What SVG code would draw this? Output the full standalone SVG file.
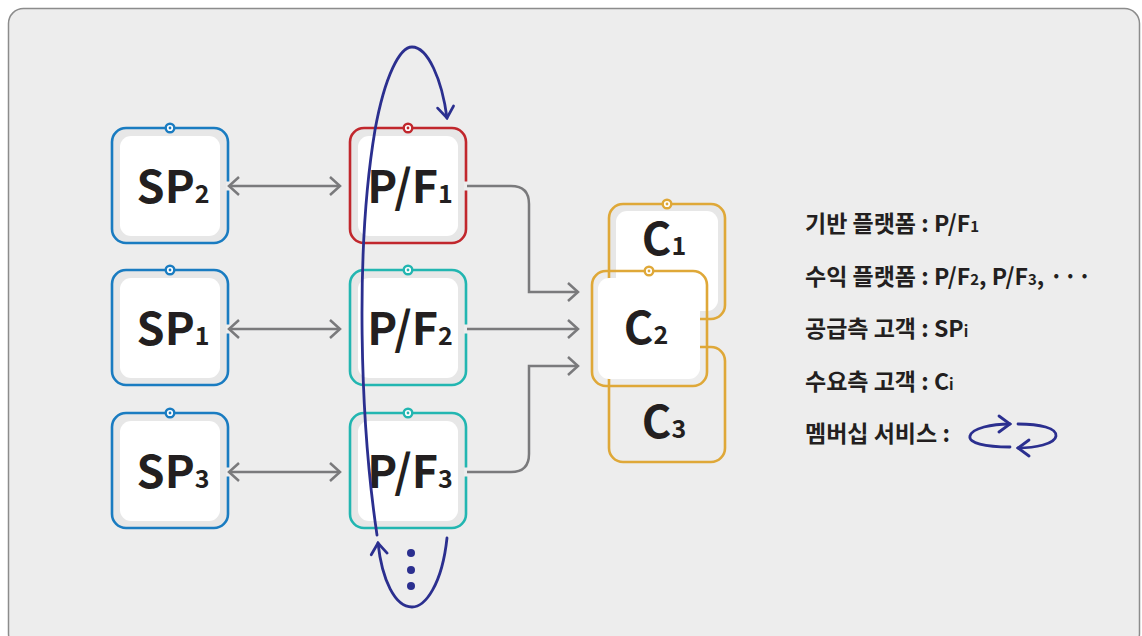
<svg xmlns="http://www.w3.org/2000/svg" width="1142" height="636" viewBox="0 0 1142 636">
  <defs>
    <style>
      .frame { fill: #ededed; stroke: #8c8c8c; stroke-width: 1.5; }
      .band { fill: #e7e7e7; stroke-width: 2.6; }
      .open { fill: none; stroke-width: 2.6; }
      .inner { fill: #ffffff; }
      .sp { stroke: #1a7cc1; }
      .pf1 { stroke: #c1272d; }
      .pf { stroke: #22b6b1; }
      .cu { stroke: #dfa838; }
      .pin { fill: #ffffff; stroke-width: 2.4; }
      .gap { fill: #ededed; }
      .lbl { font-family: "Noto Sans CJK KR", "Noto Sans", sans-serif; font-weight: 700; fill: #231f20; }
      .big { font-size: 45px; }
      .sub { font-size: 25px; }
      .leg { font-size: 23px; }
      .lsub { font-size: 15px; }
      .conn { fill: none; stroke: #7a7a7c; stroke-width: 2.5; }
      .loop { fill: none; stroke: #2b2f8f; stroke-width: 2.8; stroke-linecap: round; }
    </style>
    <marker id="gray-head" markerUnits="userSpaceOnUse" viewBox="-14 -12 16 24" refX="0" refY="0" markerWidth="16" markerHeight="24" orient="auto-start-reverse">
      <path d="M-10,-9 L0,0 L-10,9" fill="none" stroke="#7a7a7c" stroke-width="2.5"/>
    </marker>
    <marker id="navy-head" markerUnits="userSpaceOnUse" viewBox="-15 -12 17 24" refX="0" refY="0" markerWidth="17" markerHeight="24" orient="auto">
      <path d="M-11,-8 L0,0 L-11,8" fill="none" stroke="#2b2f8f" stroke-width="2.8" stroke-linecap="round"/>
    </marker>
  </defs>

  <!-- panel -->
  <rect class="frame" x="8.5" y="8.5" width="1131" height="640" rx="15"/>

  <!-- supplier side -->
  <g id="sp2">
    <rect class="band sp" x="112" y="128" width="116" height="115" rx="14"/>
    <rect class="inner" x="120" y="136" width="100" height="100" rx="11"/>
    <circle class="pin sp" cx="170" cy="128" r="4.3"/><circle cx="170" cy="128" r="1.4" fill="#1a7cc1"/>
    <text class="lbl big" x="173" y="203" text-anchor="middle">SP<tspan class="sub">2</tspan></text>
  </g>
  <g id="sp1">
    <rect class="band sp" x="112" y="270" width="116" height="115" rx="14"/>
    <rect class="inner" x="120" y="278" width="100" height="100" rx="11"/>
    <circle class="pin sp" cx="170" cy="270" r="4.3"/><circle cx="170" cy="270" r="1.4" fill="#1a7cc1"/>
    <text class="lbl big" x="173" y="345" text-anchor="middle">SP<tspan class="sub">1</tspan></text>
  </g>
  <g id="sp3">
    <rect class="band sp" x="112" y="413" width="116" height="115" rx="14"/>
    <rect class="inner" x="120" y="421" width="100" height="100" rx="11"/>
    <circle class="pin sp" cx="170" cy="413" r="4.3"/><circle cx="170" cy="413" r="1.4" fill="#1a7cc1"/>
    <text class="lbl big" x="173" y="488" text-anchor="middle">SP<tspan class="sub">3</tspan></text>
  </g>

  <!-- platforms -->
  <g id="pf1">
    <rect class="band pf1" x="350" y="128" width="116" height="115" rx="14"/>
    <rect class="inner" x="358" y="136" width="100" height="100" rx="11"/>
    <circle class="pin pf1" cx="408" cy="128" r="4.3"/><circle cx="408" cy="128" r="1.4" fill="#c1272d"/>
    <text class="lbl big" x="410" y="203" text-anchor="middle">P/F<tspan class="sub">1</tspan></text>
  </g>
  <g id="pf2">
    <rect class="band pf" x="350" y="270" width="116" height="115" rx="14"/>
    <rect class="inner" x="358" y="278" width="100" height="100" rx="11"/>
    <circle class="pin pf" cx="408" cy="270" r="4.3"/><circle cx="408" cy="270" r="1.4" fill="#22b6b1"/>
    <text class="lbl big" x="410" y="345" text-anchor="middle">P/F<tspan class="sub">2</tspan></text>
  </g>
  <g id="pf3">
    <rect class="band pf" x="350" y="413" width="116" height="115" rx="14"/>
    <rect class="inner" x="358" y="421" width="100" height="100" rx="11"/>
    <circle class="pin pf" cx="408" cy="413" r="4.3"/><circle cx="408" cy="413" r="1.4" fill="#22b6b1"/>
    <text class="lbl big" x="410" y="488" text-anchor="middle">P/F<tspan class="sub">3</tspan></text>
  </g>

  <!-- customers -->
  <g id="c1">
    <rect class="band cu" x="609" y="204" width="116" height="115" rx="14"/>
    <rect class="inner" x="616" y="211" width="102" height="100" rx="11"/>
    <circle class="pin cu" cx="667" cy="204" r="4.3"/><circle cx="667" cy="204" r="1.4" fill="#dfa838"/>
    <text class="lbl big" x="664" y="255" text-anchor="middle">C<tspan class="sub">1</tspan></text>
  </g>
  <g id="c3">
    <rect class="open cu" x="609" y="347" width="116" height="115" rx="14"/>
    <text class="lbl big" x="664" y="438" text-anchor="middle">C<tspan class="sub">3</tspan></text>
  </g>
  <g id="c2">
    <rect class="open cu" x="592" y="271" width="115" height="115" rx="14"/>
    <rect class="inner" x="598" y="278" width="102" height="101" rx="11"/>
    <circle class="pin cu" cx="649" cy="271" r="4.3"/><circle cx="649" cy="271" r="1.4" fill="#dfa838"/>
    <text class="lbl big" x="646" y="344" text-anchor="middle">C<tspan class="sub">2</tspan></text>
  </g>

  <!-- breaks in borders where links attach -->
  <g id="attach-gaps">
    <rect class="gap" x="226" y="181.5" width="5" height="9"/>
    <rect class="gap" x="226" y="324.5" width="5" height="9"/>
    <rect class="gap" x="226" y="467.5" width="5" height="9"/>
    <rect class="gap" x="464" y="181.5" width="5" height="9"/>
    <rect class="gap" x="464" y="324.5" width="5" height="9"/>
    <rect class="gap" x="464" y="467.5" width="5" height="9"/>
  </g>

  <!-- links -->
  <g id="connectors">
    <path class="conn" d="M229,186 H340" marker-start="url(#gray-head)" marker-end="url(#gray-head)"/>
    <path class="conn" d="M229,329 H340" marker-start="url(#gray-head)" marker-end="url(#gray-head)"/>
    <path class="conn" d="M229,472 H340" marker-start="url(#gray-head)" marker-end="url(#gray-head)"/>
    <path class="conn" d="M467,186 H511 Q529,186 529,204 V292 H578" marker-end="url(#gray-head)"/>
    <path class="conn" d="M467,329 H578" marker-end="url(#gray-head)"/>
    <path class="conn" d="M467,472 H511 Q529,472 529,454 V366 H578" marker-end="url(#gray-head)"/>
    <!-- membership loop -->
    <path class="loop" d="M377,535 C360,420 355,250 375,130 C385,75 400,47 412,47 C428,47 442,80 447,118" marker-end="url(#navy-head)"/>
    <path class="loop" d="M447,538 C442,585 425,607 412,607 C395,607 382,580 378,543" marker-end="url(#navy-head)"/>
    <circle cx="411" cy="553" r="4" fill="#2b2f8f"/>
    <circle cx="411" cy="570" r="4" fill="#2b2f8f"/>
    <circle cx="411" cy="586" r="4" fill="#2b2f8f"/>
  </g>

  <!-- legend -->
  <g id="legend">
    <text class="lbl leg" x="805" y="232">기반 플랫폼 : P/F<tspan class="lsub">1</tspan></text>
    <text class="lbl leg" x="805" y="285">수익 플랫폼 : P/F<tspan class="lsub">2</tspan>, P/F<tspan class="lsub">3</tspan>, <tspan letter-spacing="0.5">···</tspan></text>
    <text class="lbl leg" x="805" y="337">공급측 고객 : SP<tspan class="lsub">i</tspan></text>
    <text class="lbl leg" x="805" y="390">수요측 고객 : C<tspan class="lsub">i</tspan></text>
    <text class="lbl leg" x="805" y="442">멤버십 서비스 :</text>
    <path class="loop" d="M1010,447 C985,447 968,443 970,436 C972,428 992,424 1010,424" marker-end="url(#navy-head)"/>
    <path class="loop" d="M1018,424 C1040,424 1057,428 1056,436 C1055,444 1035,448 1018,448" marker-end="url(#navy-head)"/>
  </g>
</svg>
